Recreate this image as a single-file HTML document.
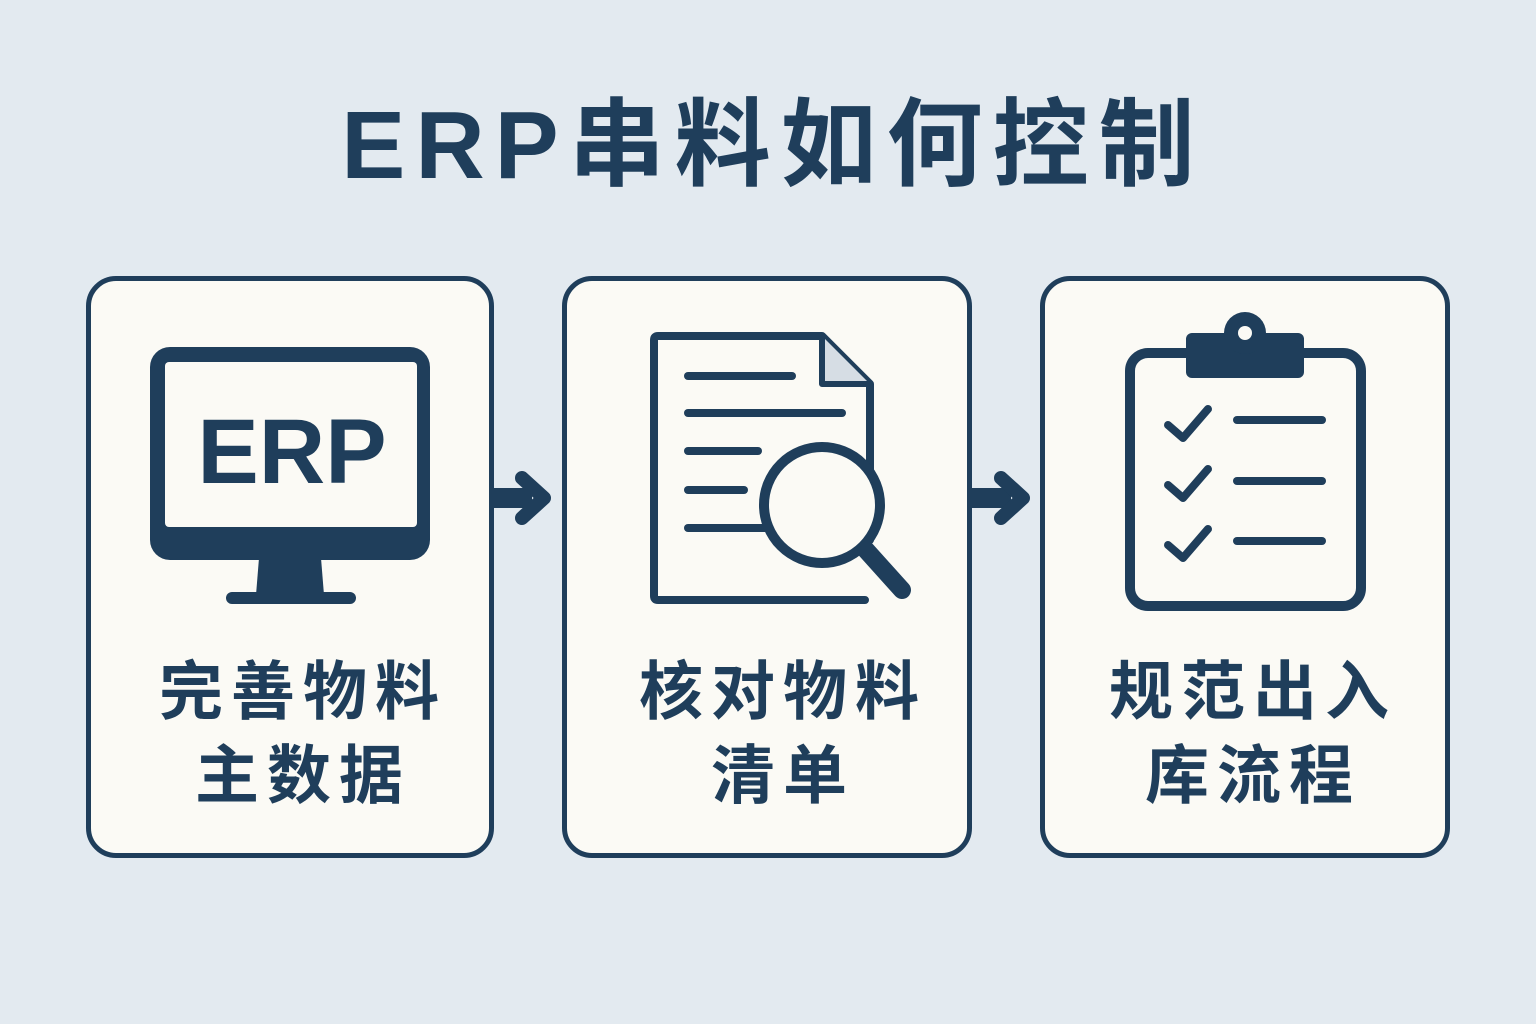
<!DOCTYPE html>
<html><head><meta charset="utf-8"><style>
body{margin:0;width:1536px;height:1024px;background:#e3eaf0;overflow:hidden;font-family:"Liberation Sans","Noto Sans CJK SC",sans-serif;color:#1f3e5b}
.t{position:absolute;left:0;width:1536px;text-align:center;top:86px;font-size:96px;font-weight:bold;letter-spacing:10px;line-height:120px;padding-left:10px;box-sizing:border-box}
.c{position:absolute;top:276px;width:400px;height:582px;border:5px solid #1f3e5b;border-radius:30px;background:#fbfaf5;box-sizing:border-box}
.l{position:absolute;width:410px;text-align:center;font-size:64px;font-weight:bold;line-height:84px;top:650px;letter-spacing:8px;padding-left:16px;box-sizing:border-box}
</style></head><body>
<div class="t">ERP串料如何控制</div>
<div class="c" style="left:86px;width:408px"></div>
<div class="c" style="left:562px;width:410px"></div>
<div class="c" style="left:1040px;width:410px"></div>
<svg width="1536" height="1024" style="position:absolute;left:0;top:0">
<g fill="#1f3e5b" stroke="none">
<rect x="150" y="347" width="280" height="213" rx="20"/>
<rect x="165" y="362" width="252" height="165" rx="4" fill="#fbfaf5"/>
<polygon points="259,558 321,558 324,595 256,595"/>
<rect x="226" y="592" width="130" height="12" rx="6"/>
<text x="292" y="483" font-size="92" font-weight="bold" text-anchor="middle" font-family="Liberation Sans,sans-serif">ERP</text>
<rect x="492" y="488" width="40" height="20"/>
<rect x="971" y="488" width="40" height="20"/>
</g>
<g fill="none" stroke="#1f3e5b" stroke-linecap="round" stroke-linejoin="round">
<polyline points="522,478 544,498 522,518" stroke-width="14"/>
<polyline points="1001,478 1023,498 1001,518" stroke-width="14"/>
<path d="M870,540 V384 L822,336 H658 Q654,336 654,340 V596 Q654,600 658,600 H865" stroke-width="8"/>
<path d="M822,336 V384 H870" fill="#d6dde4" stroke-width="6"/>
<g stroke-width="8"><line x1="688" y1="376" x2="792" y2="376"/><line x1="688" y1="413" x2="842" y2="413"/><line x1="688" y1="451" x2="758" y2="451"/><line x1="688" y1="490" x2="744" y2="490"/><line x1="688" y1="528" x2="768" y2="528"/></g>
<circle cx="822" cy="505" r="58" stroke-width="10" fill="#fbfaf5"/>
<line x1="866" y1="550" x2="902" y2="590" stroke-width="18"/>
<rect x="1130" y="353" width="231" height="253" rx="18" stroke-width="10"/>
<g stroke-width="8"><polyline points="1168,425 1183,438 1208,409"/><polyline points="1168,485 1183,498 1208,469"/><polyline points="1168,545 1183,558 1208,529"/>
<line x1="1237" y1="420" x2="1322" y2="420"/><line x1="1237" y1="481" x2="1322" y2="481"/><line x1="1237" y1="541" x2="1322" y2="541"/></g>
</g>
<rect x="1186" y="333" width="118" height="45" rx="6" fill="#1f3e5b"/>
<circle cx="1245" cy="333" r="21" fill="#1f3e5b"/>
<circle cx="1245" cy="333" r="7" fill="#fbfaf5"/>
</svg>
<div class="l" style="left:90px">完善物料<br>主数据</div>
<div class="l" style="left:570px">核对物料<br>清单</div>
<div class="l" style="left:1040px">规范出入<br>库流程</div>
</body></html>
